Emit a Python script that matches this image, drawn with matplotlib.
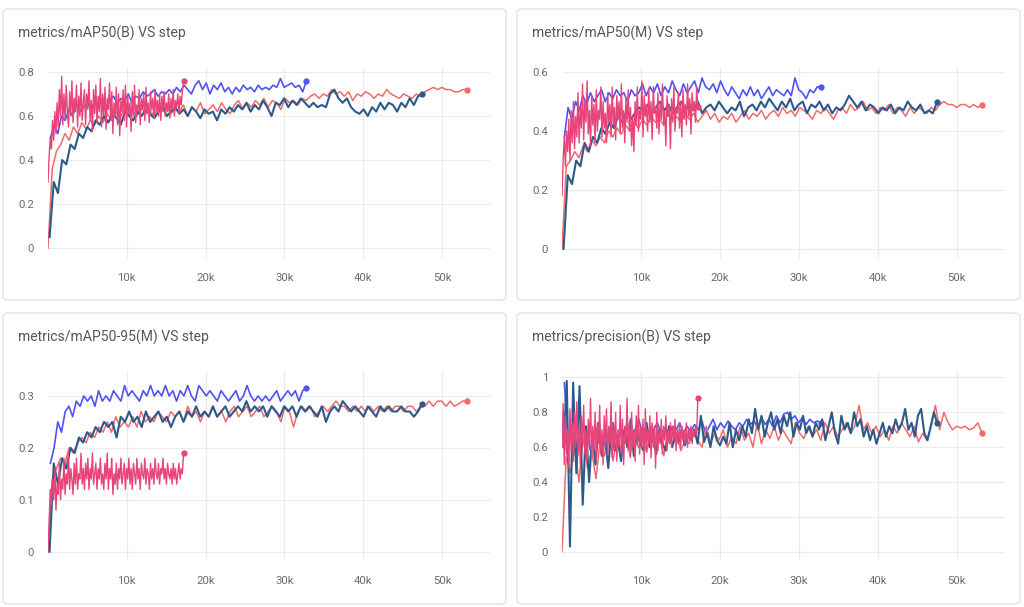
import numpy as np
import matplotlib
matplotlib.use("Agg")
import matplotlib.pyplot as plt
from matplotlib.patches import FancyBboxPatch

plt.rcParams['font.family'] = ['Roboto', 'DejaVu Sans']

# ---------------- data ----------------
titles = ["metrics/mAP50(B) VS step", "metrics/mAP50(M) VS step",
          "metrics/mAP50-95(M) VS step", "metrics/precision(B) VS step"]
x_ticks = [10000, 20000, 30000, 40000, 50000]
x_tick_labels = ["10k", "20k", "30k", "40k", "50k"]
y_ticks = [[0, 0.2, 0.4, 0.6, 0.8], [0, 0.2, 0.4, 0.6],
           [0, 0.1, 0.2, 0.3], [0, 0.2, 0.4, 0.6, 0.8, 1]]

# step span (first, last) of each run
salmon_span = (0, 53200)
blue_span = (200, 47500)
purple_span = (300, 32800)
pink_span = (0, 17200)

# --- metrics/mAP50(B)
map50b_salmon = [0.00, 0.36, 0.44, 0.47, 0.52, 0.49, 0.55, 0.52, 0.57, 0.54,
                 0.58, 0.56, 0.60, 0.57, 0.61, 0.58, 0.62, 0.59, 0.63, 0.60,
                 0.62, 0.60, 0.64, 0.61, 0.63, 0.60, 0.64, 0.62, 0.65, 0.61,
                 0.63, 0.62, 0.65, 0.60, 0.64, 0.62, 0.66, 0.61, 0.63, 0.65,
                 0.62, 0.66, 0.63, 0.61, 0.65, 0.67, 0.63, 0.66, 0.64, 0.67,
                 0.65, 0.68, 0.64, 0.67, 0.66, 0.63, 0.68, 0.66, 0.67, 0.65,
                 0.68, 0.67, 0.69, 0.70, 0.68, 0.70, 0.69, 0.72, 0.70, 0.71,
                 0.69, 0.71, 0.67, 0.70, 0.69, 0.71, 0.70, 0.68, 0.70, 0.69,
                 0.72, 0.70, 0.69, 0.68, 0.70, 0.69, 0.68, 0.70, 0.69, 0.71,
                 0.72, 0.73, 0.72, 0.73, 0.72, 0.72, 0.71, 0.71, 0.72, 0.72]
map50b_blue = [0.05, 0.30, 0.25, 0.40, 0.38, 0.47, 0.45, 0.52, 0.50, 0.55,
               0.53, 0.58, 0.56, 0.60, 0.57, 0.61, 0.59, 0.56, 0.62, 0.60,
               0.58, 0.62, 0.60, 0.63, 0.61, 0.59, 0.62, 0.64, 0.60, 0.62,
               0.64, 0.61, 0.63, 0.60, 0.64, 0.62, 0.59, 0.63, 0.61, 0.62,
               0.58, 0.63, 0.61, 0.64, 0.62, 0.65, 0.63, 0.66, 0.62, 0.65,
               0.63, 0.67, 0.64, 0.60, 0.66, 0.65, 0.68, 0.64, 0.67, 0.65,
               0.68, 0.66, 0.64, 0.66, 0.64, 0.65, 0.64, 0.70, 0.72, 0.68,
               0.66, 0.68, 0.64, 0.62, 0.61, 0.63, 0.60, 0.64, 0.62, 0.66,
               0.63, 0.66, 0.65, 0.62, 0.66, 0.64, 0.68, 0.65, 0.69, 0.70]
map50b_purple = [0.50, 0.56, 0.52, 0.60, 0.58, 0.63, 0.60, 0.65, 0.62, 0.64,
                 0.66, 0.63, 0.67, 0.65, 0.68, 0.64, 0.67, 0.69, 0.66, 0.68,
                 0.67, 0.70, 0.66, 0.69, 0.68, 0.71, 0.69, 0.70, 0.72, 0.69,
                 0.71, 0.70, 0.72, 0.70, 0.73, 0.71, 0.74, 0.72, 0.70, 0.74,
                 0.76, 0.72, 0.75, 0.70, 0.74, 0.72, 0.75, 0.71, 0.73, 0.70,
                 0.73, 0.71, 0.74, 0.72, 0.73, 0.71, 0.74, 0.72, 0.73, 0.72,
                 0.74, 0.73, 0.77, 0.73, 0.74, 0.75, 0.73, 0.74, 0.71, 0.76]
map50b_pink = [0.30, 0.42, 0.50, 0.45, 0.58, 0.49, 0.62, 0.52, 0.66, 0.55, 0.72, 0.60,
               0.78, 0.56, 0.70, 0.58, 0.74, 0.62, 0.55, 0.71, 0.60, 0.76, 0.57, 0.68,
               0.62, 0.74, 0.55, 0.69, 0.60, 0.75, 0.58, 0.66, 0.72, 0.56, 0.70, 0.63,
               0.76, 0.58, 0.67, 0.53, 0.72, 0.61, 0.74, 0.57, 0.69, 0.62, 0.77, 0.55,
               0.70, 0.60, 0.73, 0.54, 0.68, 0.63, 0.75, 0.58, 0.71, 0.52, 0.66, 0.60,
               0.73, 0.56, 0.70, 0.51, 0.67, 0.62, 0.72, 0.58, 0.74, 0.55, 0.69, 0.61,
               0.66, 0.53, 0.71, 0.60, 0.74, 0.57, 0.65, 0.62, 0.72, 0.56, 0.68, 0.63,
               0.70, 0.58, 0.73, 0.61, 0.66, 0.57, 0.71, 0.63, 0.68, 0.59, 0.72, 0.62,
               0.67, 0.60, 0.70, 0.58, 0.69, 0.63, 0.71, 0.60, 0.66, 0.62, 0.70, 0.59,
               0.68, 0.63, 0.72, 0.60, 0.67, 0.64, 0.70, 0.61, 0.69, 0.65, 0.71, 0.76]

# --- metrics/mAP50(M)
map50m_salmon = [0.00, 0.28, 0.30, 0.33, 0.31, 0.35, 0.33, 0.37, 0.35, 0.38,
                 0.36, 0.40, 0.38, 0.41, 0.39, 0.42, 0.40, 0.43, 0.41, 0.44,
                 0.42, 0.45, 0.43, 0.44, 0.42, 0.46, 0.44, 0.45, 0.43, 0.46,
                 0.44, 0.46, 0.43, 0.45, 0.47, 0.44, 0.46, 0.43, 0.45, 0.44,
                 0.46, 0.43, 0.45, 0.47, 0.44, 0.46, 0.45, 0.47, 0.44, 0.46,
                 0.47, 0.45, 0.48, 0.46, 0.47, 0.45, 0.48, 0.47, 0.46, 0.44,
                 0.47, 0.46, 0.48, 0.46, 0.44, 0.47, 0.48, 0.46, 0.49, 0.47,
                 0.48, 0.50, 0.47, 0.48, 0.46, 0.48, 0.47, 0.49, 0.46, 0.48,
                 0.47, 0.45, 0.48, 0.46, 0.48, 0.47, 0.46, 0.48, 0.47, 0.49,
                 0.50, 0.49, 0.49, 0.48, 0.49, 0.49, 0.48, 0.49, 0.48, 0.49]
map50m_blue = [0.00, 0.25, 0.22, 0.30, 0.28, 0.36, 0.33, 0.38, 0.36, 0.41,
               0.39, 0.43, 0.41, 0.45, 0.43, 0.47, 0.44, 0.46, 0.48, 0.47,
               0.49, 0.46, 0.48, 0.50, 0.47, 0.49, 0.46, 0.48, 0.50, 0.47,
               0.49, 0.47, 0.50, 0.46, 0.48, 0.49, 0.47, 0.50, 0.48, 0.46,
               0.48, 0.47, 0.50, 0.45, 0.48, 0.49, 0.47, 0.50, 0.48, 0.51,
               0.49, 0.47, 0.50, 0.48, 0.51, 0.47, 0.49, 0.50, 0.46, 0.49,
               0.48, 0.50, 0.47, 0.49, 0.46, 0.48, 0.47, 0.49, 0.52, 0.50,
               0.48, 0.50, 0.47, 0.49, 0.48, 0.46, 0.48, 0.47, 0.49, 0.46,
               0.48, 0.47, 0.50, 0.48, 0.47, 0.49, 0.46, 0.47, 0.46, 0.50]
map50m_purple = [0.38, 0.48, 0.44, 0.50, 0.47, 0.52, 0.49, 0.53, 0.50, 0.52,
                 0.54, 0.50, 0.53, 0.51, 0.54, 0.52, 0.53, 0.50, 0.54, 0.52,
                 0.53, 0.56, 0.52, 0.55, 0.53, 0.56, 0.52, 0.55, 0.53, 0.57,
                 0.54, 0.52, 0.56, 0.53, 0.55, 0.57, 0.53, 0.58, 0.55, 0.54,
                 0.56, 0.53, 0.57, 0.54, 0.52, 0.55, 0.53, 0.51, 0.54, 0.52,
                 0.55, 0.52, 0.54, 0.51, 0.53, 0.55, 0.52, 0.54, 0.53, 0.52,
                 0.54, 0.52, 0.58, 0.54, 0.53, 0.51, 0.54, 0.53, 0.55, 0.55]
map50m_pink = [0.18, 0.30, 0.38, 0.28, 0.40, 0.33, 0.44, 0.30, 0.47, 0.36, 0.50, 0.34,
               0.45, 0.38, 0.53, 0.36, 0.48, 0.41, 0.56, 0.37, 0.50, 0.43, 0.57, 0.39,
               0.47, 0.35, 0.52, 0.42, 0.49, 0.36, 0.54, 0.40, 0.47, 0.44, 0.55, 0.38,
               0.50, 0.41, 0.46, 0.36, 0.53, 0.43, 0.49, 0.38, 0.55, 0.42, 0.48, 0.37,
               0.52, 0.44, 0.50, 0.39, 0.56, 0.41, 0.47, 0.36, 0.51, 0.43, 0.54, 0.40,
               0.48, 0.35, 0.45, 0.33, 0.50, 0.42, 0.55, 0.40, 0.47, 0.44, 0.57, 0.38,
               0.52, 0.45, 0.49, 0.40, 0.54, 0.43, 0.50, 0.37, 0.55, 0.46, 0.48, 0.41,
               0.53, 0.39, 0.50, 0.44, 0.56, 0.42, 0.47, 0.35, 0.52, 0.45, 0.49, 0.34,
               0.51, 0.43, 0.55, 0.40, 0.48, 0.46, 0.53, 0.41, 0.50, 0.38, 0.54, 0.44,
               0.49, 0.42, 0.56, 0.45, 0.51, 0.39, 0.53, 0.47, 0.50, 0.43, 0.55, 0.48]

# --- metrics/mAP50-95(M)
map5095m_salmon = [0.00, 0.14, 0.16, 0.18, 0.17, 0.20, 0.19, 0.21, 0.22, 0.21,
                   0.23, 0.22, 0.24, 0.23, 0.25, 0.23, 0.26, 0.24, 0.25, 0.24,
                   0.26, 0.24, 0.27, 0.25, 0.26, 0.25, 0.27, 0.26, 0.25, 0.27,
                   0.26, 0.27, 0.25, 0.28, 0.26, 0.27, 0.25, 0.27, 0.26, 0.28,
                   0.26, 0.27, 0.25, 0.27, 0.28, 0.26, 0.27, 0.28, 0.26, 0.27,
                   0.28, 0.26, 0.27, 0.28, 0.27, 0.25, 0.28, 0.27, 0.24, 0.27,
                   0.28, 0.27, 0.28, 0.26, 0.27, 0.28, 0.27, 0.28, 0.29, 0.28,
                   0.28, 0.27, 0.28, 0.27, 0.28, 0.27, 0.28, 0.27, 0.28, 0.27,
                   0.28, 0.27, 0.28, 0.28, 0.27, 0.28, 0.28, 0.27, 0.28, 0.28,
                   0.29, 0.28, 0.29, 0.29, 0.28, 0.29, 0.28, 0.285, 0.29, 0.29]
map5095m_blue = [0.00, 0.17, 0.13, 0.18, 0.16, 0.20, 0.19, 0.22, 0.21, 0.23,
                 0.22, 0.24, 0.23, 0.25, 0.24, 0.25, 0.22, 0.26, 0.25, 0.27,
                 0.25, 0.26, 0.24, 0.27, 0.25, 0.26, 0.27, 0.25, 0.26, 0.24,
                 0.26, 0.27, 0.25, 0.27, 0.26, 0.28, 0.26, 0.27, 0.26, 0.28,
                 0.26, 0.27, 0.28, 0.26, 0.27, 0.28, 0.27, 0.29, 0.27, 0.28,
                 0.27, 0.28, 0.26, 0.28, 0.27, 0.26, 0.28, 0.27, 0.28, 0.26,
                 0.28, 0.27, 0.28, 0.27, 0.26, 0.28, 0.25, 0.27, 0.28, 0.27,
                 0.29, 0.28, 0.27, 0.28, 0.27, 0.26, 0.28, 0.27, 0.26, 0.28,
                 0.27, 0.28, 0.27, 0.27, 0.28, 0.27, 0.27, 0.26, 0.27, 0.285]
map5095m_purple = [0.17, 0.20, 0.25, 0.23, 0.27, 0.28, 0.26, 0.29, 0.28, 0.30,
                   0.29, 0.30, 0.28, 0.31, 0.29, 0.30, 0.29, 0.31, 0.30, 0.29,
                   0.32, 0.30, 0.31, 0.30, 0.29, 0.31, 0.30, 0.32, 0.30, 0.31,
                   0.30, 0.32, 0.30, 0.31, 0.29, 0.31, 0.30, 0.32, 0.30, 0.29,
                   0.32, 0.31, 0.30, 0.31, 0.30, 0.29, 0.31, 0.30, 0.29, 0.30,
                   0.31, 0.29, 0.30, 0.32, 0.30, 0.29, 0.30, 0.29, 0.30, 0.29,
                   0.30, 0.31, 0.29, 0.30, 0.31, 0.30, 0.31, 0.29, 0.31, 0.315]
map5095m_pink = [0.00, 0.06, 0.12, 0.09, 0.14, 0.10, 0.16, 0.08, 0.13, 0.11, 0.17, 0.10,
                 0.14, 0.12, 0.18, 0.11, 0.15, 0.13, 0.19, 0.12, 0.16, 0.14, 0.11, 0.17,
                 0.13, 0.18, 0.12, 0.15, 0.14, 0.19, 0.13, 0.16, 0.12, 0.17, 0.14, 0.18,
                 0.12, 0.16, 0.14, 0.19, 0.13, 0.15, 0.17, 0.12, 0.16, 0.14, 0.18, 0.13,
                 0.15, 0.12, 0.17, 0.14, 0.19, 0.12, 0.16, 0.14, 0.18, 0.11, 0.15, 0.13,
                 0.17, 0.12, 0.16, 0.14, 0.18, 0.13, 0.15, 0.17, 0.12, 0.16, 0.14, 0.18,
                 0.13, 0.16, 0.12, 0.17, 0.15, 0.13, 0.18, 0.14, 0.16, 0.12, 0.17, 0.15,
                 0.14, 0.18, 0.13, 0.16, 0.15, 0.12, 0.17, 0.14, 0.16, 0.13, 0.18, 0.15,
                 0.14, 0.17, 0.13, 0.16, 0.15, 0.18, 0.14, 0.16, 0.13, 0.17, 0.15, 0.14,
                 0.16, 0.13, 0.17, 0.14, 0.16, 0.13, 0.15, 0.17, 0.14, 0.16, 0.15, 0.19]

# --- metrics/precision(B)
precb_salmon = [0.00, 0.55, 0.45, 0.62, 0.40, 0.66, 0.48, 0.58, 0.42, 0.64,
                0.55, 0.70, 0.52, 0.66, 0.58, 0.72, 0.55, 0.68, 0.60, 0.65,
                0.57, 0.72, 0.60, 0.66, 0.55, 0.70, 0.62, 0.68, 0.58, 0.64,
                0.62, 0.70, 0.64, 0.60, 0.72, 0.62, 0.68, 0.64, 0.70, 0.60,
                0.66, 0.62, 0.72, 0.64, 0.68, 0.60, 0.74, 0.62, 0.70, 0.65,
                0.72, 0.64, 0.70, 0.66, 0.62, 0.74, 0.68, 0.65, 0.72, 0.66,
                0.70, 0.64, 0.74, 0.68, 0.72, 0.66, 0.70, 0.74, 0.68, 0.72,
                0.84, 0.70, 0.74, 0.68, 0.72, 0.66, 0.70, 0.64, 0.72, 0.68,
                0.74, 0.70, 0.66, 0.72, 0.63, 0.68, 0.64, 0.72, 0.84, 0.70,
                0.80, 0.74, 0.70, 0.72, 0.71, 0.72, 0.70, 0.71, 0.74, 0.68]
precb_blue = [0.60, 0.98, 0.03, 0.97, 0.45, 0.95, 0.27, 0.72, 0.40, 0.68,
              0.50, 0.74, 0.55, 0.66, 0.48, 0.72, 0.58, 0.64, 0.52, 0.70,
              0.60, 0.76, 0.55, 0.68, 0.62, 0.58, 0.74, 0.60, 0.66, 0.56,
              0.70, 0.62, 0.58, 0.72, 0.60, 0.66, 0.63, 0.70, 0.61, 0.67,
              0.64, 0.70, 0.62, 0.78, 0.63, 0.68, 0.60, 0.72, 0.64, 0.61,
              0.66, 0.62, 0.74, 0.60, 0.70, 0.64, 0.72, 0.66, 0.76, 0.68,
              0.82, 0.70, 0.78, 0.66, 0.74, 0.80, 0.70, 0.76, 0.68, 0.78,
              0.72, 0.80, 0.66, 0.74, 0.70, 0.78, 0.68, 0.72, 0.66, 0.74,
              0.70, 0.76, 0.64, 0.72, 0.80, 0.68, 0.62, 0.78, 0.70, 0.74,
              0.68, 0.80, 0.72, 0.76, 0.66, 0.72, 0.64, 0.70, 0.62, 0.68,
              0.74, 0.66, 0.72, 0.68, 0.76, 0.70, 0.74, 0.82, 0.70, 0.74,
              0.66, 0.78, 0.82, 0.68, 0.64, 0.72, 0.80, 0.74]
precb_purple = [0.97, 0.60, 0.72, 0.55, 0.68, 0.62, 0.70, 0.58, 0.66, 0.72,
                0.64, 0.70, 0.62, 0.74, 0.66, 0.68, 0.63, 0.72, 0.66, 0.70,
                0.76, 0.68, 0.72, 0.66, 0.70, 0.74, 0.68, 0.71, 0.65, 0.72,
                0.70, 0.74, 0.68, 0.72, 0.69, 0.73, 0.70, 0.75, 0.68, 0.72,
                0.76, 0.70, 0.74, 0.71, 0.75, 0.72, 0.70, 0.74, 0.72, 0.76,
                0.73, 0.75, 0.71, 0.77, 0.73, 0.76, 0.72, 0.78, 0.74, 0.79,
                0.80, 0.76, 0.78, 0.74, 0.77, 0.73, 0.76, 0.74, 0.75, 0.74]
precb_pink = [0.60, 0.85, 0.50, 0.78, 0.56, 0.70, 0.48, 0.82, 0.58, 0.74, 0.52, 0.80,
              0.60, 0.86, 0.55, 0.72, 0.50, 0.78, 0.62, 0.84, 0.56, 0.70, 0.52, 0.76,
              0.60, 0.88, 0.54, 0.72, 0.58, 0.80, 0.52, 0.74, 0.62, 0.84, 0.56, 0.70,
              0.50, 0.78, 0.60, 0.82, 0.55, 0.72, 0.62, 0.86, 0.54, 0.74, 0.58, 0.80,
              0.52, 0.70, 0.60, 0.84, 0.56, 0.76, 0.50, 0.72, 0.62, 0.88, 0.58, 0.74,
              0.54, 0.80, 0.60, 0.70, 0.52, 0.78, 0.62, 0.84, 0.56, 0.72, 0.60, 0.76,
              0.50, 0.82, 0.58, 0.70, 0.62, 0.78, 0.54, 0.74, 0.60, 0.72, 0.48, 0.80,
              0.58, 0.70, 0.62, 0.76, 0.56, 0.72, 0.64, 0.78, 0.58, 0.70, 0.62, 0.74,
              0.60, 0.72, 0.64, 0.76, 0.58, 0.70, 0.62, 0.74, 0.60, 0.72, 0.64, 0.70,
              0.62, 0.74, 0.60, 0.70, 0.64, 0.72, 0.62, 0.70, 0.66, 0.72, 0.68, 0.88]

# ---------------- styling ----------------
run_styles = {
    "purple": dict(color="#5252f2", lw=1.2, z=2),
    "salmon": dict(color="#f06a6a", lw=1.1, z=3),
    "blue":   dict(color="#2c5b8b", lw=1.5, z=4),
    "pink":   dict(color="#e8447a", lw=1.0, z=5),
}
spans = {"salmon": salmon_span, "blue": blue_span,
         "purple": purple_span, "pink": pink_span}

panels = [
    {"salmon": map50b_salmon, "blue": map50b_blue,
     "purple": map50b_purple, "pink": map50b_pink},
    {"salmon": map50m_salmon, "blue": map50m_blue,
     "purple": map50m_purple, "pink": map50m_pink},
    {"salmon": map5095m_salmon, "blue": map5095m_blue,
     "purple": map5095m_purple, "pink": map5095m_pink},
    {"salmon": precb_salmon, "blue": precb_blue,
     "purple": precb_purple, "pink": precb_pink},
]
ylims = [(-0.045, 0.818), (-0.031, 0.614), (-0.018, 0.348), (-0.053, 1.037)]

W, H = 1024, 607
fig = plt.figure(figsize=(W / 100, H / 100), dpi=100)
fig.patch.set_facecolor("white")

card_boxes = [(3, 9, 506, 300), (517, 9, 1020, 300),
              (3, 313, 506, 604), (517, 313, 1020, 604)]
axes_boxes = [(48, 68, 490, 258), (562, 68, 1005, 258),
              (48, 371, 490, 561), (562, 371, 1005, 561)]

for i in range(4):
    x0, y0, x1, y1 = card_boxes[i]
    card = FancyBboxPatch((x0 / W, 1 - y1 / H), (x1 - x0) / W, (y1 - y0) / H,
                          boxstyle="round,pad=0,rounding_size=0.006",
                          transform=fig.transFigure, facecolor="white",
                          edgecolor="#e2e2e6", lw=1.0, zorder=-5)
    fig.patches.append(card)
    fig.text((x0 + 15) / W, 1 - (y0 + 24) / H, titles[i], fontsize=10.1,
             color="#55555f", va="center", ha="left")

    ax0, ay0, ax1, ay1 = axes_boxes[i]
    ax = fig.add_axes([ax0 / W, 1 - ay1 / H, (ax1 - ax0) / W, (ay1 - ay0) / H])
    ax.set_zorder(2)
    ax.set_facecolor("none")
    for s in ax.spines.values():
        s.set_visible(False)
    ax.set_xlim(0, 56100)
    ax.set_ylim(*ylims[i])
    ax.set_xticks(x_ticks)
    ax.set_xticklabels(x_tick_labels)
    ax.set_yticks(y_ticks[i])
    ax.set_yticklabels(["{:g}".format(v) for v in y_ticks[i]])
    ax.tick_params(length=0, labelsize=8.2, labelcolor="#6a6a76")
    ax.tick_params(axis="y", pad=10)
    ax.tick_params(axis="x", pad=11)
    ax.grid(True, color="#ececef", lw=0.9)
    ax.set_axisbelow(True)

    for name in ["purple", "salmon", "blue", "pink"]:
        vals = panels[i][name]
        st = run_styles[name]
        steps = np.linspace(spans[name][0], spans[name][1], len(vals))
        ax.plot(steps, vals, color=st["color"], lw=st["lw"], zorder=st["z"],
                solid_joinstyle="round")
        ax.plot(steps[-1:], vals[-1:], "o", color=st["color"], ms=3.5,
                zorder=st["z"])

fig.savefig("out.png", dpi=100, facecolor="white")
